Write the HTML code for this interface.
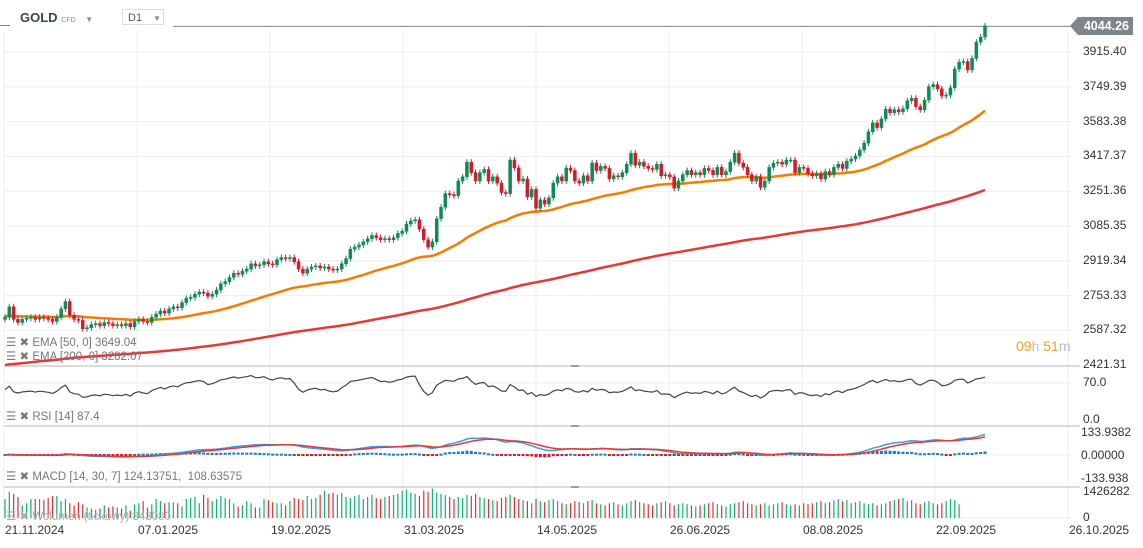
<!DOCTYPE html>
<html><head><meta charset="utf-8"><style>
html,body{margin:0;padding:0;background:#fff;width:1143px;height:548px;overflow:hidden;font-family:"Liberation Sans",sans-serif;}
#wrap{position:relative;width:1143px;height:548px;}
svg{position:absolute;left:0;top:0;}
.lbl{position:absolute;font-size:11.5px;color:#777;white-space:nowrap;}
.ax{position:absolute;font-size:12px;color:#333;white-space:nowrap;}
</style></head><body>
<div id="wrap">
<svg id="chart" width="1143" height="548"></svg>
<div style="position:absolute;left:20px;top:10px;font-size:13px;font-weight:bold;color:#37474f">GOLD <span style="font-size:7px;color:#888;font-weight:normal">CFD</span> <span style="font-size:8px;color:#888;margin-left:6px">▼</span></div>
<div style="position:absolute;left:122px;top:9px;width:42px;height:16px;border:1px solid #ddd;font-size:11px;color:#555;line-height:16px;box-sizing:border-box;padding-left:5px">D1 <span style="font-size:8px;color:#888;margin-left:8px">▼</span></div>
<div class="lbl" style="left:6px;top:335px">☰ ✖ EMA [50, 0] 3649.04</div>
<div class="lbl" style="left:6px;top:349px">☰ ✖ EMA [200, 0] 3282.07</div>
<div class="lbl" style="left:6px;top:409px">☰ ✖ RSI [14] 87.4</div>
<div class="lbl" style="left:6px;top:469px">☰ ✖ MACD [14, 30, 7] 124.13751,&nbsp;&nbsp;108.63575</div>
<div class="lbl" style="left:6px;top:509px;color:#aaa">☰ ✖ Wolumen (tickowy) 343080</div>
<div style="position:absolute;left:1016px;top:338px;font-size:14px;color:#f5a020">09<span style="color:#bbb">h</span> 51<span style="color:#bbb">m</span></div>
<div style="position:absolute;left:1070px;top:17px;width:63px;height:18px;background:#7d878b;clip-path:polygon(8px 0,100% 0,100% 100%,8px 100%,0 50%);color:#fff;font-size:12.5px;font-weight:bold;line-height:18px;text-align:right;padding-right:4px;box-sizing:border-box">4044.26</div>
</div>
<script>
const closes=[2650,2700,2640,2625,2640,2645,2650,2640,2650,2645,2640,2630,2650,2690,2725,2660,2640,2635,2595,2600,2615,2620,2610,2625,2620,2610,2615,2610,2620,2605,2630,2640,2630,2625,
2650,2665,2680,2670,2690,2700,2695,2720,2740,2745,2760,2770,2765,2750,2760,2780,2810,2820,2840,2860,2855,2870,2880,2905,2895,2900,2915,2905,2900,2925,2935,2930,2935,2915,2880,2860,2880,2890,2895,2885,2890,2880,2875,2880,2905,2930,2975,2985,2995,3010,3025,3040,3030,3020,3025,3020,3030,3050,3060,3095,3110,3115,3070,3020,2985,3010,
3120,3175,3240,3235,3230,3300,3320,3390,3340,3300,3340,3355,3300,3320,3290,3245,3240,3400,3363,3300,3310,3224,3260,3170,3210,3190,3220,3290,3320,3300,3362,3350,3300,3290,3325,3300,3386,3350,3370,3360,3310,3325,3320,3340,3380,3433,3375,3390,3370,3360,3355,3380,3325,3330,3320,3266,3300,3330,3350,3330,3340,3330,3360,3350,3330,3365,3330,3345,3390,3433,3385,3365,3330,3300,3320,3270,3300,3365,3385,3390,3380,3400,3400,3340,3365,3360,3335,3325,3335,3310,3345,3330,3365,
3380,3360,3395,3405,3420,3448,3481,3535,3577,3555,3596,3643,3626,3640,3630,3645,3683,3695,3655,3640,3686,3750,3760,3740,3705,3710,3745,3834,3867,3870,3830,3885,3963,3987,4040];
const volumes=[900,1250,1150,1000,600,700,900,900,900,850,950,1050,1050,800,900,700,600,750,650,500,450,400,450,600,500,550,500,450,600,350,650,700,800,500,
650,900,800,700,750,750,700,550,900,950,1000,700,1100,950,800,900,1050,950,900,700,550,600,800,700,500,500,900,850,750,700,700,600,800,950,900,850,1050,900,950,1100,1300,1150,1200,1100,1200,1000,950,1050,1100,900,1000,1100,950,900,1000,1050,1100,1150,1300,1350,1200,1150,1050,1300,1250,1400,
1200,1150,1100,1000,900,1000,950,1100,1050,1150,1000,950,900,850,800,950,1000,1100,1000,900,850,800,700,900,800,750,850,900,800,700,650,700,800,750,700,800,850,700,650,600,700,750,650,600,700,800,850,750,700,650,600,700,750,800,700,600,650,700,650,600,550,600,650,700,750,650,600,550,650,700,750,800,700,650,600,650,700,600,650,700,750,650,600,650,600,700,650,
700,750,800,700,750,850,900,800,850,700,750,800,700,650,700,600,650,700,800,850,900,950,800,850,700,650,750,800,700,650,700,800,900,850,650];
const priceTicks=[3915.40,3749.39,3583.38,3417.37,3251.36,3085.35,2919.34,2753.33,2587.32,2421.31];
const dateLabels=["21.11.2024","07.01.2025","19.02.2025","31.03.2025","14.05.2025","26.06.2025","08.08.2025","22.09.2025","26.10.2025"];
const rsiTicks=[70.0,0.0];
const macdTicks=["133.9382","0.00000","-133.938"];

const NS="http://www.w3.org/2000/svg";
const svg=document.getElementById('chart');
const wrap=document.getElementById('wrap');
function el(t,a,p){const e=document.createElementNS(NS,t);for(const k in a)e.setAttribute(k,a[k]);(p||svg).appendChild(e);return e;}
const N=closes.length;
const X0=5,X1=985;
const xAt=i=>X0+i*(X1-X0)/(N-1);
const yP=p=>52+(3915.4-p)*34.8/166.01;
const yR=v=>420-v*0.53;
const yM=v=>455-v*23/133.9382;
const yV=v=>518-v*30/1426;
const plotR=1072;

for(let k=0;k<9;k++){const gx=4+k*133;
 const g=el('line',{x1:gx,x2:gx,y1:30,y2:520,stroke:'#eeeeee','stroke-width':1});
 
 const d=document.createElement('div');d.className='ax';d.style.left=(gx+1)+'px';d.style.top=(523)+'px';d.textContent=dateLabels[k];
 wrap.appendChild(d);}
priceTicks.forEach(p=>{const y=yP(p);
 if(y<360){const g=el('line',{x1:4,x2:plotR,y1:y,y2:y,stroke:'#eeeeee'});}
 const d=document.createElement('div');d.className='ax';d.style.left='1083px';d.style.top=(y-8)+'px';d.textContent=p.toFixed(2);
 wrap.appendChild(d);});
[366,426,487].forEach(y=>{const s=el('line',{x1:4,x2:1080,y1:y,y2:y,stroke:'#cfcfcf','stroke-width':1.5});
 
 el('line',{x1:571,x2:579,y1:y,y2:y,stroke:'#888','stroke-width':1.5});});
[[yR(70),'70.0'],[yR(0),'0.0']].forEach(([y,t])=>{const d=document.createElement('div');d.className='ax';d.style.left='1083px';d.style.top=(y-8)+'px';d.textContent=t;wrap.appendChild(d);});
el('line',{x1:4,x2:plotR,y1:yR(70),y2:yR(70),stroke:'#eeeeee'});
[[yM(133.9382),macdTicks[0]],[yM(0),macdTicks[1]],[yM(-133.9382),macdTicks[2]]].forEach(([y,t])=>{const d=document.createElement('div');d.className='ax';d.style.left='1081px';d.style.top=(y-7)+'px';d.textContent=t;wrap.appendChild(d);});
el('line',{x1:4,x2:plotR,y1:yM(0),y2:yM(0),stroke:'#eeeeee'});
[[492,'1426282'],[yV(0),'0']].forEach(([y,t])=>{const d=document.createElement('div');d.className='ax';d.style.left='1083px';d.style.top=(y-8)+'px';d.textContent=t;wrap.appendChild(d);});
el('line',{x1:4,x2:plotR,y1:518,y2:518,stroke:'#eeeeee'});
const lp=el('line',{x1:173,x2:1072,y1:yP(closes[N-1])+0.5,y2:yP(closes[N-1])+0.5,stroke:'#7d878b','stroke-width':1});

el('line',{x1:0,x2:10,y1:25.5,y2:25.5,stroke:'#7d878b'});

function ema(period,seed){const a=2/(period+1);let e=seed;return closes.map(c=>(e=e+a*(c-e)));}
const e50=ema(50,2655),e200=ema(200,2420);
function poly(arr,yf,color,w,name){const pts=arr.map((v,i)=>v==null?null:xAt(i).toFixed(1)+','+yf(v).toFixed(1)).filter(Boolean).join(' ');
 const p=el('polyline',{points:pts,fill:'none',stroke:color,'stroke-width':w,'stroke-linejoin':'round'});
 }
poly(e200,yP,'#e53935',2.5,'ema200-line');
poly(e50,yP,'#f57c00',2.5,'ema50-line');

for(let i=0;i<N;i++){const c=closes[i],o=i?closes[i-1]:2640;const up=c>=o;const col=up?'#0f8a55':'#d11a2a';
 const x=xAt(i);const yt=yP(Math.max(o,c)),yb=yP(Math.min(o,c));
 const w=el('line',{x1:x,x2:x,y1:yt-3,y2:yb+3,stroke:col,'stroke-width':1});
 
 const r=el('rect',{x:x-1.5,y:yt,width:3,height:Math.max(1,yb-yt),fill:col,stroke:col,'stroke-width':0.5});
 }

const rsi=[];let ag=12,al=9;
for(let i=0;i<N;i++){if(i===0){rsi.push(100-100/(1+ag/al));continue;}const d=closes[i]-closes[i-1];const g=Math.max(d,0),l=Math.max(-d,0);
 ag=(ag*13+g)/14;al=(al*13+l)/14;rsi.push(al===0?100:100-100/(1+ag/al));}
poly(rsi,yR,'#444',1.2,'rsi-line');

const f=ema(14,closes[0]),s=ema(30,closes[0]);const macd=f.map((v,i)=>v-s[i]);
let sg=0;const sig=macd.map(m=>(sg=sg+2/8*(m-sg)));
for(let i=0;i<N;i++){const h=macd[i]-sig[i];const y0=yM(0),y1=yM(h);
 const b=el('rect',{x:xAt(i)-1.5,y:Math.min(y0,y1)-1,width:3,height:Math.max(2,Math.abs(y1-y0)),fill:h>=0?'#1e78c8':'#d11a2a'});
 }
poly(macd,yM,'#3a9be0',1.5,'macd-line');
poly(sig,yM,'#e53935',1.5,'macd-signal-line');

for(let i=0;i<N&&i<volumes.length;i++){const up=i?closes[i]>=closes[i-1]:true;
 const v=el('line',{x1:xAt(i),x2:xAt(i),y1:yV(volumes[i]),y2:518,stroke:up?'#10b070':'#e03030','stroke-width':1.2});
 }
</script>
</body></html>
